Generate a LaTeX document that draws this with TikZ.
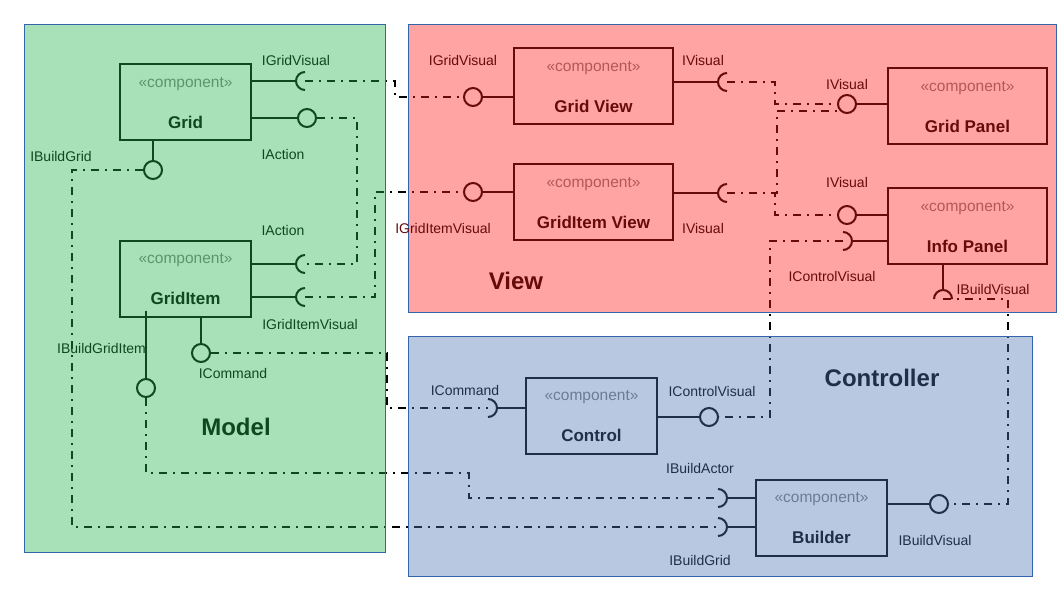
\documentclass[tikz,border=0pt]{standalone}
\usepackage{fontspec}
\setmainfont{Liberation Sans}
\usetikzlibrary{calc}
\definecolor{mFill}{RGB}{38,178,78}
\definecolor{vFill}{RGB}{255,25,25}
\definecolor{cFill}{RGB}{78,118,178}
\definecolor{mDark}{RGB}{15,71,31}
\definecolor{vDark}{RGB}{102,10,10}
\definecolor{cDark}{RGB}{31,47,71}
\definecolor{mGray}{RGB}{92,148,108}
\definecolor{vGray}{RGB}{179,87,87}
\definecolor{cGray}{RGB}{108,124,148}
\definecolor{regBorder}{RGB}{52,101,170}
\pgfdeclarelayer{bgl}
\pgfdeclarelayer{connl}
\pgfdeclarelayer{filll}
\pgfsetlayers{bgl,connl,filll,main}
\tikzset{
  region/.style={draw=regBorder, line width=1pt},
  comp/.style={draw, line width=2pt, minimum height=76pt, inner sep=0pt, outer sep=0pt},
  stereo/.style={font=\fontsize{15.5}{17}\selectfont, anchor=base, inner sep=0pt},
  cname/.style={font=\fontsize{17}{19}\selectfont\bfseries, anchor=base, inner sep=0pt},
  lbl/.style={font=\fontsize{14}{16}\selectfont, anchor=base, inner sep=0pt},
  regtitle/.style={font=\fontsize{24}{28}\selectfont\bfseries, anchor=base, inner sep=0pt},
  iface/.style={line width=2pt},
  ball/.style={circle, line width=2pt, minimum size=18pt, inner sep=0pt},
  conn/.style={line width=1.8pt, draw=black, dash pattern=on 8pt off 6pt on 2pt off 6pt}
}
\newcommand\mycomp[6]{%
  \node[comp, draw=#6Dark, minimum width=#4pt] (#1) at (#2,-#3) {};
  \node[stereo, text=#6Gray] (#1-st) at ($(#1.center)+(0,15)$) {«component»};
  \node[cname, text=#6Dark] (#1-nm) at ($(#1.center)+(0,-26)$) {#5};
}
% socket opening to the right  "("
\newcommand\sockOR[2]{\draw[iface,#2] ($(#1)+(0,9)$) arc[start angle=90,end angle=270,radius=9];}
% socket opening to the left  ")"
\newcommand\sockOL[2]{\draw[iface,#2] ($(#1)+(0,9)$) arc[start angle=90,end angle=-90,radius=9];}
% socket opening downwards
\newcommand\sockOD[2]{\draw[iface,#2] ($(#1)+(-9,0)$) arc[start angle=180,end angle=0,radius=9];}
\begin{document}
\begin{tikzpicture}[x=1pt,y=1pt]
\begin{pgfonlayer}{bgl}
\fill[white] (0,0) rectangle (1058,-595);
\end{pgfonlayer}
\useasboundingbox (0,0) rectangle (1058,-595);

% region fills (translucent, over the connectors)
\begin{pgfonlayer}{filll}
\fill[mFill, fill opacity=0.4] (24,-24) rectangle (385,-552);
\fill[vFill, fill opacity=0.4] (408,-24) rectangle (1056,-312);
\fill[cFill, fill opacity=0.4] (408,-336) rectangle (1032,-576);
\end{pgfonlayer}
\draw[region] (24,-24) rectangle (385,-552);
\draw[region] (408,-24) rectangle (1056,-312);
\draw[region] (408,-336) rectangle (1032,-576);

% region titles
\node[regtitle, text=mDark] (tModel) at (236,-435) {Model};
\node[regtitle, text=vDark] (tView) at (516,-289.5) {View};
\node[regtitle, text=cDark] (tCtrl) at (882,-386) {Controller};

% components
\mycomp{grid}{185.5}{102}{131}{Grid}{m}
\mycomp{gridItem}{185.5}{278.5}{131}{GridItem}{m}
\mycomp{gridView}{593.5}{86}{159}{Grid View}{v}
\mycomp{gridItemView}{593.5}{202}{159}{GridItem View}{v}
\mycomp{gridPanel}{967.5}{106}{159}{Grid Panel}{v}
\mycomp{infoPanel}{967.5}{226}{159}{Info Panel}{v}
\mycomp{control}{591.5}{415.5}{131}{Control}{c}
\mycomp{builder}{821.5}{517.5}{131}{Builder}{c}

% interface points
\coordinate (sGridGV) at (305,-81);
\node[ball,draw=mDark] (bGridAct) at (307,-118) {};
\node[ball,draw=mDark] (bGridBuild) at (153,-170) {};
\coordinate (sGIAct) at (305,-264);
\coordinate (sGIGIV) at (305,-297);
\node[ball,draw=mDark] (bGICmd) at (201,-353) {};
\node[ball,draw=mDark] (bGIBuild) at (146,-388) {};
\node[ball,draw=vDark] (bGVGrid) at (473,-97) {};
\coordinate (sGVVis) at (727,-82);
\node[ball,draw=vDark] (bGIVgi) at (473,-192) {};
\coordinate (sGIVVis) at (727,-193);
\node[ball,draw=vDark] (bGPVis) at (847,-104) {};
\node[ball,draw=vDark] (bIPVis) at (847,-215) {};
\coordinate (sIPCtrl) at (843,-241);
\coordinate (sIPBuild) at (943,-299);
\coordinate (sCtrlCmd) at (488,-408);
\node[ball,draw=cDark] (bCtrlVis) at (709,-417) {};
\coordinate (sBldActor) at (718,-498);
\coordinate (sBldGrid) at (718,-527);
\node[ball,draw=cDark] (bBldVis) at (939,-504) {};

% stubs: model
\draw[iface,mDark] (grid.east |- sGridGV) -- ($(sGridGV)+(-9,0)$);
\sockOR{sGridGV}{mDark}
\draw[iface,mDark] (grid.east |- bGridAct) -- (bGridAct.west);
\draw[iface,mDark] (grid.south -| bGridBuild) -- (bGridBuild.north);
\draw[iface,mDark] (gridItem.east |- sGIAct) -- ($(sGIAct)+(-9,0)$);
\sockOR{sGIAct}{mDark}
\draw[iface,mDark] (gridItem.east |- sGIGIV) -- ($(sGIGIV)+(-9,0)$);
\sockOR{sGIGIV}{mDark}
\draw[iface,mDark] (gridItem.south -| bGICmd) -- (bGICmd.north);
\draw[iface,mDark] ($(gridItem.south -| bGIBuild)+(0,6)$) -- (bGIBuild.north);
% stubs: view
\draw[iface,vDark] (bGVGrid.east) -- (gridView.west |- bGVGrid);
\draw[iface,vDark] (gridView.east |- sGVVis) -- ($(sGVVis)+(-9,0)$);
\sockOR{sGVVis}{vDark}
\draw[iface,vDark] (bGIVgi.east) -- (gridItemView.west |- bGIVgi);
\draw[iface,vDark] (gridItemView.east |- sGIVVis) -- ($(sGIVVis)+(-9,0)$);
\sockOR{sGIVVis}{vDark}
\draw[iface,vDark] (bGPVis.east) -- (gridPanel.west |- bGPVis);
\draw[iface,vDark] (bIPVis.east) -- (infoPanel.west |- bIPVis);
\draw[iface,vDark] ($(sIPCtrl)+(9,0)$) -- (infoPanel.west |- sIPCtrl);
\sockOL{sIPCtrl}{vDark}
\draw[iface,vDark] (infoPanel.south -| sIPBuild) -- ($(sIPBuild)+(0,9)$);
\sockOD{sIPBuild}{vDark}
% stubs: controller
\draw[iface,cDark] ($(sCtrlCmd)+(9,0)$) -- (control.west |- sCtrlCmd);
\sockOL{sCtrlCmd}{cDark}
\draw[iface,cDark] (control.east |- bCtrlVis) -- (bCtrlVis.west);
\draw[iface,cDark] ($(sBldActor)+(9,0)$) -- (builder.west |- sBldActor);
\sockOL{sBldActor}{cDark}
\draw[iface,cDark] ($(sBldGrid)+(9,0)$) -- (builder.west |- sBldGrid);
\sockOL{sBldGrid}{cDark}
\draw[iface,cDark] (builder.east |- bBldVis) -- (bBldVis.west);

% labels: model
\node[lbl,text=mDark] (l1) at (296,-65) {IGridVisual};
\node[lbl,text=mDark] (l2) at (283,-159) {IAction};
\node[lbl,text=mDark] (l3) at (61,-161) {IBuildGrid};
\node[lbl,text=mDark] (l4) at (283,-235) {IAction};
\node[lbl,text=mDark] (l5) at (310,-329) {IGridItemVisual};
\node[lbl,text=mDark] (l6) at (101.5,-353) {IBuildGridItem};
\node[lbl,text=mDark] (l7) at (233,-378) {ICommand};
% labels: view
\node[lbl,text=vDark] (l8) at (463,-65) {IGridVisual};
\node[lbl,text=vDark] (l9) at (703,-65) {IVisual};
\node[lbl,text=vDark] (l10) at (443,-233) {IGridItemVisual};
\node[lbl,text=vDark] (l11) at (703,-233) {IVisual};
\node[lbl,text=vDark] (l12) at (847,-89) {IVisual};
\node[lbl,text=vDark] (l13) at (847,-187) {IVisual};
\node[lbl,text=vDark] (l14) at (832,-281) {IControlVisual};
\node[lbl,text=vDark] (l15) at (993,-294) {IBuildVisual};
% labels: controller
\node[lbl,text=cDark] (l16) at (465,-395) {ICommand};
\node[lbl,text=cDark] (l17) at (712,-396) {IControlVisual};
\node[lbl,text=cDark] (l18) at (700,-473) {IBuildActor};
\node[lbl,text=cDark] (l19) at (700,-565) {IBuildGrid};
\node[lbl,text=cDark] (l20) at (935,-545) {IBuildVisual};

% connectors (under the translucent region fills)
\begin{pgfonlayer}{connl}
\draw[conn] (sGridGV) -- ++(90,0) |- (bGVGrid.west);
\draw[conn] (bGridAct.east) -- ++(40,0) |- (sGIAct);
\draw[conn] (sGIGIV) -- ++(70,0) |- (bGIVgi.west);
\draw[conn] (bGICmd.east) -- ++(176,0) |- (sCtrlCmd);
\draw[conn] (bGIBuild.south) -- ++(0,-75) -- ++(323,0) |- (sBldActor);
\draw[conn] (bGridBuild.west) -- ++(-71,0) |- (sBldGrid);
\draw[conn] (sGVVis) -- ++(48,0) |- (bGPVis.west);
\draw[conn] (sGIVVis) -- ++(50,0) |- (bGPVis.south west);
\draw[conn] (sGIVVis) -- ++(48,0) |- (bIPVis.west);
\draw[conn] (sIPCtrl) -- ++(-73,0) |- (bCtrlVis.east);
\draw[conn] (sIPBuild) -- ++(65,0) |- (bBldVis.east);
\end{pgfonlayer}
\end{tikzpicture}
\end{document}
